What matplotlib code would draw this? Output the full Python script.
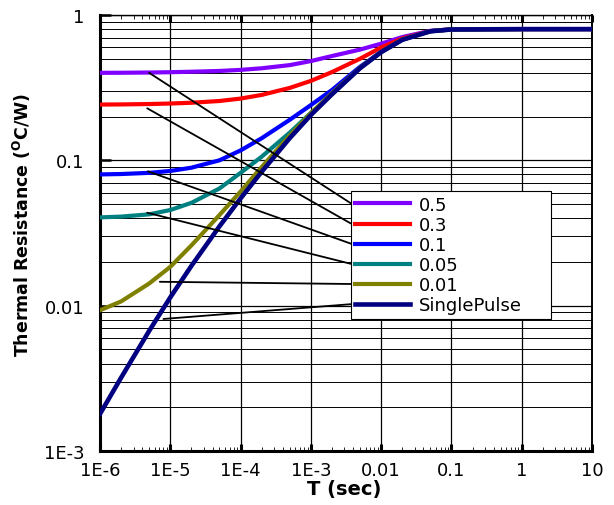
import numpy as np
import matplotlib.pyplot as plt
from matplotlib.ticker import FixedLocator, FixedFormatter, LogLocator, NullFormatter

plt.rcParams['font.family'] = 'DejaVu Sans'

# pulse width (sec)
t = [1e-6, 2e-6, 5e-6, 1e-5, 2e-5, 5e-5, 1e-4, 2e-4, 5e-4,
     1e-3, 2e-3, 5e-3, 1e-2, 2e-2, 5e-2, 1e-1, 1, 10]

# transient thermal resistance (C/W) per duty cycle
z_d05 = [0.400, 0.4005, 0.402, 0.404, 0.407, 0.412, 0.419, 0.430, 0.452,
         0.482, 0.522, 0.578, 0.635, 0.705, 0.778, 0.797, 0.80, 0.80]
z_d03 = [0.242, 0.2425, 0.244, 0.246, 0.249, 0.256, 0.266, 0.282, 0.315,
         0.352, 0.405, 0.500, 0.598, 0.690, 0.775, 0.797, 0.80, 0.80]
z_d01 = [0.080, 0.0805, 0.082, 0.0845, 0.089, 0.100, 0.117, 0.142, 0.190,
         0.240, 0.305, 0.440, 0.558, 0.678, 0.774, 0.796, 0.80, 0.80]
z_d005 = [0.0405, 0.041, 0.0425, 0.0455, 0.051, 0.064, 0.082, 0.106, 0.155,
          0.212, 0.285, 0.432, 0.556, 0.677, 0.773, 0.795, 0.80, 0.80]
z_d001 = [0.0093, 0.0107, 0.0142, 0.0185, 0.026, 0.042, 0.061, 0.090, 0.148,
          0.211, 0.290, 0.433, 0.557, 0.677, 0.773, 0.795, 0.80, 0.80]
z_single = [0.0018, 0.0032, 0.0067, 0.0114, 0.0188, 0.0351, 0.0547, 0.0835, 0.142,
            0.205, 0.285, 0.430, 0.555, 0.675, 0.772, 0.795, 0.80, 0.80]

curves = [z_d05, z_d03, z_d01, z_d005, z_d001, z_single]
labels = ['0.5', '0.3', '0.1', '0.05', '0.01', 'SinglePulse']
colors = ['#8000ff', '#ff0000', '#0000ff', '#008080', '#808000', '#000080']

xticks = [1e-6, 1e-5, 1e-4, 1e-3, 1e-2, 1e-1, 1, 10]
xtick_labels = ['1E-6', '1E-5', '1E-4', '1E-3', '0.01', '0.1', '1', '10']
yticks = [1e-3, 1e-2, 1e-1, 1]
ytick_labels = ['1E-3', '0.01', '0.1', '1']

# start point (t, Z) of each legend leader line
lead_t = [5e-6, 4.7e-6, 4.8e-6, 4.7e-6, 7.1e-6, 8e-6]
lead_z = [0.400, 0.228, 0.084, 0.0436, 0.0146, 0.0081]

fig = plt.figure(figsize=(6.14, 5.06), dpi=100)
ax = fig.add_axes([100 / 614, 54 / 506, 492 / 614, 436 / 506])
ax.set_xscale('log')
ax.set_yscale('log')

for z, lab, c in zip(curves, labels, colors):
    lw = 3.3 if lab == 'SinglePulse' else 3.0
    ax.plot(t, z, color=c, lw=lw, label=lab, solid_joinstyle='round', zorder=3)

ax.set_xlim(1e-6, 10)
ax.set_ylim(1e-3, 1)

ax.xaxis.set_major_locator(FixedLocator(xticks))
ax.xaxis.set_major_formatter(FixedFormatter(xtick_labels))
ax.xaxis.set_minor_locator(LogLocator(base=10, subs=np.arange(2, 10), numticks=20))
ax.xaxis.set_minor_formatter(NullFormatter())
ax.yaxis.set_major_locator(FixedLocator(yticks))
ax.yaxis.set_major_formatter(FixedFormatter(ytick_labels))
ax.yaxis.set_minor_locator(LogLocator(base=10, subs=np.arange(2, 10), numticks=20))
ax.yaxis.set_minor_formatter(NullFormatter())

ax.grid(True, which='major', color='black', lw=0.9)
ax.grid(True, which='minor', axis='y', color='black', lw=0.7)
ax.set_axisbelow(True)

ax.tick_params(axis='x', which='major', direction='in', length=5, width=2.2,
               top=True, labelsize=13, pad=7)
ax.tick_params(axis='x', which='minor', direction='in', length=3, width=0.6, top=True)
ax.tick_params(axis='y', which='major', direction='in', length=8, width=1.8,
               labelsize=13, pad=11)
ax.tick_params(axis='y', which='minor', length=0)

ax.spines['left'].set_linewidth(2.2)
ax.spines['bottom'].set_linewidth(2.2)
ax.spines['top'].set_linewidth(1.0)
ax.spines['right'].set_linewidth(1.4)

ax.set_ylabel(r'Thermal Resistance ($^{\mathbf{O}}$C/W)', fontsize=12.5, fontweight='bold')
ax.yaxis.set_label_coords(-0.136, 0.521)
ax.set_xlabel('T (sec)', fontsize=14, fontweight='bold')
ax.xaxis.set_label_coords(0.496, -0.064)

leg = ax.legend(loc='upper left', bbox_to_anchor=(0.510, 0.312, 0.407, 0.284),
                mode='expand', fontsize=13, frameon=True, fancybox=False,
                framealpha=1, edgecolor='black', borderpad=0.25,
                handlelength=3.0, handletextpad=0.5, labelspacing=0.12,
                borderaxespad=0)
leg.get_frame().set_linewidth(0.8)

# leader lines from each curve to its legend entry
fig.canvas.draw()
r = fig.canvas.get_renderer()
frame = leg.get_frame().get_window_extent(r)
to_ax = ax.transAxes.inverted()
for h, t0, z0 in zip(leg.legend_handles, lead_t, lead_z):
    bb = h.get_window_extent(r)
    end = to_ax.transform((frame.x0, (bb.y0 + bb.y1) / 2))
    ax.annotate('', xy=(t0, z0), xycoords='data', xytext=end,
                textcoords='axes fraction', zorder=4,
                arrowprops=dict(arrowstyle='-', color='black', lw=1.3,
                                shrinkA=0, shrinkB=0))

fig.savefig('out.png', dpi=100)
